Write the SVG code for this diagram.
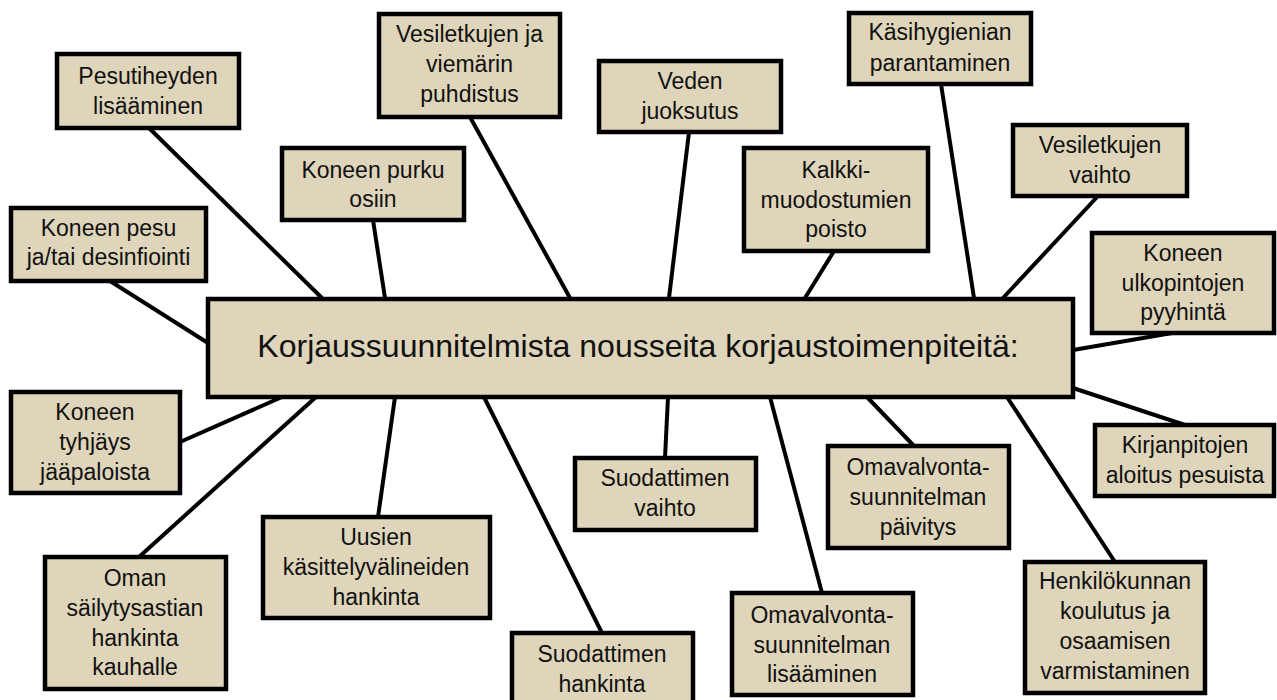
<svg xmlns="http://www.w3.org/2000/svg" width="1277" height="700" viewBox="0 0 1277 700">
<style>
.box{fill:#ded5ba;stroke:#000;stroke-width:4.5}
.t{font-family:"Liberation Sans",Arial,sans-serif;font-size:23px;fill:#111;text-anchor:middle}
.title{font-family:"Liberation Sans",Arial,sans-serif;font-size:32px;fill:#111;text-anchor:middle}
.c line{stroke:#000;stroke-width:4;stroke-linecap:butt}
</style>
<rect width="1277" height="700" fill="#fff"/>
<g id="connectors" class="c">
<line x1="149" y1="128" x2="322" y2="298"/>
<line x1="373" y1="220" x2="385" y2="298"/>
<line x1="470" y1="117" x2="570" y2="298"/>
<line x1="110" y1="281" x2="208" y2="343"/>
<line x1="689" y1="132" x2="669" y2="298"/>
<line x1="941" y1="84" x2="974" y2="298"/>
<line x1="834" y1="251" x2="805" y2="298"/>
<line x1="1098" y1="196" x2="1003" y2="298"/>
<line x1="1073" y1="350" x2="1178" y2="332"/>
<line x1="1073" y1="388" x2="1185" y2="425"/>
<line x1="1007" y1="397" x2="1115" y2="562"/>
<line x1="867" y1="397" x2="914" y2="446"/>
<line x1="770" y1="397" x2="822" y2="593"/>
<line x1="668" y1="397" x2="665" y2="458"/>
<line x1="484" y1="397" x2="602" y2="633"/>
<line x1="395" y1="397" x2="378" y2="517"/>
<line x1="316" y1="397" x2="139" y2="557"/>
<line x1="282" y1="397" x2="180" y2="442"/>
</g>
<g id="center">
<rect class="box" x="208" y="299" width="865" height="98"/>
<text class="title" x="638" y="357">Korjaussuunnitelmista nousseita korjaustoimenpiteitä:</text>
</g>
<g id="pesutiheyden">
<rect class="box" x="57" y="54" width="182" height="74"/>
<text class="t" x="148" y="84">Pesutiheyden</text>
<text class="t" x="148" y="114">lisääminen</text>
</g>
<g id="viemari">
<rect class="box" x="379" y="14" width="181" height="103"/>
<text class="t" x="469.5" y="42">Vesiletkujen ja</text>
<text class="t" x="469.5" y="72">viemärin</text>
<text class="t" x="469.5" y="102">puhdistus</text>
</g>
<g id="purku">
<rect class="box" x="282" y="148" width="182" height="72"/>
<text class="t" x="373" y="178">Koneen purku</text>
<text class="t" x="373" y="207">osiin</text>
</g>
<g id="pesu">
<rect class="box" x="11" y="208" width="195" height="73"/>
<text class="t" x="108.5" y="236">Koneen pesu</text>
<text class="t" x="108.5" y="265">ja/tai desinfiointi</text>
</g>
<g id="veden">
<rect class="box" x="599" y="61" width="182" height="71"/>
<text class="t" x="690" y="89">Veden</text>
<text class="t" x="690" y="119">juoksutus</text>
</g>
<g id="kasihygienia">
<rect class="box" x="849" y="13" width="182" height="71"/>
<text class="t" x="940" y="40">Käsihygienian</text>
<text class="t" x="940" y="71">parantaminen</text>
</g>
<g id="kalkki">
<rect class="box" x="744" y="148" width="184" height="103"/>
<text class="t" x="836" y="178">Kalkki-</text>
<text class="t" x="836" y="208">muodostumien</text>
<text class="t" x="836" y="237">poisto</text>
</g>
<g id="vaihto">
<rect class="box" x="1013" y="125" width="174" height="71"/>
<text class="t" x="1100" y="153">Vesiletkujen</text>
<text class="t" x="1100" y="183">vaihto</text>
</g>
<g id="ulkopinnat">
<rect class="box" x="1092" y="233" width="182" height="100"/>
<text class="t" x="1183" y="261">Koneen</text>
<text class="t" x="1183" y="291">ulkopintojen</text>
<text class="t" x="1183" y="320">pyyhintä</text>
</g>
<g id="kirjanpito">
<rect class="box" x="1095" y="425" width="179" height="71"/>
<text class="t" x="1185" y="453">Kirjanpitojen</text>
<text class="t" x="1185" y="483">aloitus pesuista</text>
</g>
<g id="henkilokunta">
<rect class="box" x="1025" y="562" width="180" height="131"/>
<text class="t" x="1115" y="589">Henkilökunnan</text>
<text class="t" x="1115" y="619">koulutus ja</text>
<text class="t" x="1115" y="649">osaamisen</text>
<text class="t" x="1115" y="679">varmistaminen</text>
</g>
<g id="paivitys">
<rect class="box" x="828" y="446" width="181" height="102"/>
<text class="t" x="918" y="475">Omavalvonta-</text>
<text class="t" x="918" y="505">suunnitelman</text>
<text class="t" x="918" y="535">päivitys</text>
</g>
<g id="lisaaminen">
<rect class="box" x="732" y="593" width="181" height="102"/>
<text class="t" x="822" y="623">Omavalvonta-</text>
<text class="t" x="822" y="653">suunnitelman</text>
<text class="t" x="822" y="682">lisääminen</text>
</g>
<g id="suodvaihto">
<rect class="box" x="575" y="458" width="181" height="72"/>
<text class="t" x="665" y="486">Suodattimen</text>
<text class="t" x="665" y="516">vaihto</text>
</g>
<g id="suodhankinta">
<rect class="box" x="512" y="633" width="181" height="72"/>
<text class="t" x="602" y="662">Suodattimen</text>
<text class="t" x="602" y="692">hankinta</text>
</g>
<g id="uusien">
<rect class="box" x="263" y="517" width="227" height="101"/>
<text class="t" x="376" y="545">Uusien</text>
<text class="t" x="376" y="575">käsittelyvälineiden</text>
<text class="t" x="376" y="605">hankinta</text>
</g>
<g id="oman">
<rect class="box" x="45" y="557" width="181" height="132"/>
<text class="t" x="135" y="586">Oman</text>
<text class="t" x="135" y="616">säilytysastian</text>
<text class="t" x="135" y="646">hankinta</text>
<text class="t" x="135" y="675">kauhalle</text>
</g>
<g id="tyhjays">
<rect class="box" x="11" y="392" width="169" height="101"/>
<text class="t" x="95" y="420">Koneen</text>
<text class="t" x="95" y="450">tyhjäys</text>
<text class="t" x="95" y="480">jääpaloista</text>
</g>
</svg>
